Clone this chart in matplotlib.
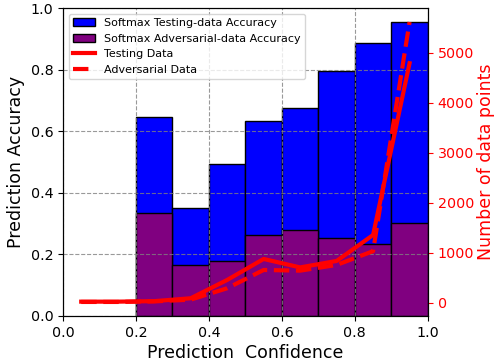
import numpy as np
import matplotlib
matplotlib.use("Agg")
import matplotlib.pyplot as plt

# accuracy per confidence bin (left edge of each bin)
bin_edges = [0.2, 0.3, 0.4, 0.5, 0.6, 0.7, 0.8, 0.9]
test_acc = [0.646, 0.350, 0.495, 0.632, 0.676, 0.795, 0.886, 0.955]
adv_acc = [0.333, 0.165, 0.178, 0.262, 0.278, 0.253, 0.234, 0.301]

# number of data points per bin centre
centers = [0.05, 0.15, 0.25, 0.35, 0.45, 0.55, 0.65, 0.75, 0.85, 0.95]
test_counts = [20, 20, 30, 88, 454, 874, 705, 834, 1354, 4790]
adv_counts = [14, 14, 25, 60, 288, 654, 640, 754, 1030, 5614]

fig = plt.figure(figsize=(4.94, 3.64), dpi=100)
ax1 = fig.add_axes([0.1275, 0.132, 0.7385, 0.846])

b1 = ax1.bar(bin_edges, test_acc, width=0.1, align='edge', color='blue',
             edgecolor='black', label='Softmax Testing-data Accuracy')
b2 = ax1.bar(bin_edges, adv_acc, width=0.1, align='edge', color='purple',
             edgecolor='black', label='Softmax Adversarial-data Accuracy')
ax1.set_xlim(0, 1)
ax1.set_ylim(0, 1)
ax1.grid(color='gray', linestyle='--', linewidth=0.8, alpha=0.8)
ax1.set_xlabel('Prediction  Confidence', fontsize=12.5, labelpad=3)
ax1.set_ylabel('Prediction Accuracy', fontsize=12.5)
ax1.tick_params(labelsize=10.3)
ax1.set_xticks(np.arange(0, 1.01, 0.2))
ax1.set_yticks(np.arange(0, 1.01, 0.2))

ax2 = ax1.twinx()
l1, = ax2.plot(centers, test_counts, color='red', linewidth=3, label='Testing Data')
l2, = ax2.plot(centers, adv_counts, color='red', linewidth=3, linestyle='--',
               label='Adversarial Data')
ax2.set_ylabel('Number of data points', color='red', fontsize=12.5, labelpad=2)
ax2.tick_params(axis='y', colors='red', labelsize=10.3)

ax2.legend(handles=[b1, b2, l1, l2], loc='upper left', fontsize=8)

fig.savefig('out.png', dpi=100)
